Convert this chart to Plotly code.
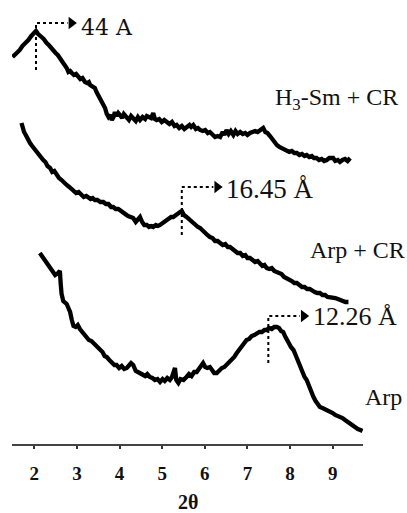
import plotly.graph_objects as go

# X-ray diffraction patterns, intensity in arbitrary units (stacked offsets)
h3sm_cr_2theta = [1.49, 1.55, 1.60, 1.66, 1.72, 1.78, 1.86, 1.93, 2.00, 2.04, 2.09, 2.13, 2.17, 2.22,
                  2.26, 2.29, 2.34, 2.39, 2.45, 2.50, 2.55, 2.60, 2.65, 2.70, 2.76, 2.80, 2.84, 2.88,
                  2.93, 2.98, 3.03, 3.08, 3.13, 3.19, 3.24, 3.28, 3.31, 3.36, 3.42, 3.46, 3.50, 3.54,
                  3.58, 3.62, 3.66, 3.70, 3.74, 3.78, 3.82, 3.86, 3.89, 3.93, 3.97, 4.01, 4.06, 4.10,
                  4.17, 4.22, 4.27, 4.32, 4.38, 4.43, 4.48, 4.54, 4.60, 4.64, 4.70, 4.74, 4.79, 4.83,
                  4.87, 4.93, 4.99, 5.05, 5.11, 5.17, 5.23, 5.29, 5.34, 5.40, 5.46, 5.52, 5.58, 5.64,
                  5.68, 5.73, 5.79, 5.84, 5.89, 5.95, 6.01, 6.07, 6.12, 6.18, 6.24, 6.30, 6.36, 6.42,
                  6.46, 6.51, 6.56, 6.61, 6.67, 6.72, 6.77, 6.83, 6.89, 6.95, 7.00, 7.06, 7.12, 7.18,
                  7.24, 7.30, 7.37, 7.42, 7.47, 7.53, 7.58, 7.63, 7.69, 7.75, 7.80, 7.86, 7.92, 7.98,
                  8.04, 8.10, 8.16, 8.22, 8.28, 8.34, 8.39, 8.45, 8.51, 8.56, 8.62, 8.68, 8.74, 8.80,
                  8.86, 8.92, 9.01, 9.06, 9.12, 9.17, 9.23, 9.29, 9.35, 9.41]
h3sm_cr_int = [387, 389, 392, 394, 398, 400, 404, 408, 411, 413, 410, 409, 407, 405,
               402, 401, 399, 396, 394, 391, 389, 386, 382, 379, 376, 372, 373, 371,
               369, 370, 367, 365, 366, 362, 361, 362, 359, 357, 356, 352, 349, 345,
               342, 339, 336, 330, 327, 329, 324, 327, 332, 328, 331, 329, 326, 330,
               327, 324, 328, 326, 323, 327, 324, 327, 325, 328, 326, 326, 331, 325,
               324, 325, 322, 324, 322, 320, 322, 318, 319, 316, 318, 315, 317, 319,
               317, 319, 315, 316, 314, 313, 314, 311, 312, 310, 307, 308, 307, 312,
               309, 314, 310, 313, 309, 313, 310, 312, 310, 311, 309, 311, 312, 313,
               312, 314, 316, 312, 311, 308, 305, 302, 299, 297, 296, 295, 294, 292,
               293, 291, 291, 289, 290, 288, 289, 287, 288, 286, 286, 284, 285, 283,
               284, 286, 286, 283, 284, 282, 284, 285, 283, 286]

arp_cr_2theta = [1.70, 1.73, 1.76, 1.80, 1.85, 1.90, 1.95, 2.00, 2.06, 2.11, 2.16, 2.21, 2.26, 2.31,
                 2.37, 2.42, 2.47, 2.53, 2.58, 2.64, 2.70, 2.76, 2.82, 2.87, 2.92, 2.98, 3.04, 3.11,
                 3.16, 3.22, 3.27, 3.32, 3.37, 3.42, 3.48, 3.55, 3.62, 3.68, 3.74, 3.80, 3.85, 3.91,
                 3.97, 4.03, 4.09, 4.15, 4.20, 4.26, 4.32, 4.38, 4.43, 4.48, 4.53, 4.58, 4.64, 4.69,
                 4.74, 4.79, 4.85, 4.90, 4.95, 5.01, 5.06, 5.11, 5.16, 5.21, 5.26, 5.31, 5.37, 5.42,
                 5.46, 5.51, 5.57, 5.62, 5.68, 5.73, 5.79, 5.84, 5.89, 5.95, 6.01, 6.06, 6.12, 6.18,
                 6.24, 6.30, 6.36, 6.42, 6.48, 6.54, 6.59, 6.65, 6.71, 6.77, 6.83, 6.89, 6.95, 7.00,
                 7.06, 7.12, 7.18, 7.24, 7.29, 7.35, 7.40, 7.45, 7.51, 7.57, 7.63, 7.69, 7.75, 7.80,
                 7.86, 7.92, 7.98, 8.04, 8.10, 8.16, 8.22, 8.28, 8.34, 8.40, 8.46, 8.52, 8.58, 8.64,
                 8.70, 8.76, 8.82, 8.88, 8.94, 9.00, 9.06, 9.12, 9.18, 9.24, 9.30, 9.37]
arp_cr_int = [321, 316, 312, 309, 304, 301, 298, 295, 292, 290, 286, 284, 282, 278,
              276, 272, 273, 269, 266, 264, 261, 259, 257, 255, 254, 251, 252, 249,
              247, 248, 246, 245, 246, 244, 244, 242, 242, 240, 240, 237, 237, 235,
              235, 233, 232, 229, 228, 227, 226, 222, 225, 227, 222, 219, 219, 217,
              218, 217, 219, 218, 219, 221, 222, 224, 225, 227, 227, 229, 230, 232,
              233, 229, 227, 225, 223, 222, 219, 217, 216, 213, 211, 209, 207, 206,
              203, 203, 201, 199, 200, 197, 197, 195, 194, 191, 191, 188, 189, 186,
              186, 184, 182, 183, 181, 178, 179, 176, 175, 176, 173, 172, 170, 170,
              167, 166, 164, 163, 161, 161, 159, 157, 157, 155, 155, 153, 152, 151,
              151, 149, 149, 147, 147, 146, 146, 145, 144, 144, 142, 142]

arp_2theta = [2.13, 2.18, 2.25, 2.30, 2.37, 2.42, 2.49, 2.56, 2.60, 2.62, 2.64, 2.68, 2.72, 2.76,
              2.80, 2.84, 2.88, 2.92, 2.97, 3.02, 3.07, 3.13, 3.18, 3.23, 3.28, 3.34, 3.42, 3.48,
              3.54, 3.60, 3.65, 3.70, 3.76, 3.82, 3.88, 3.93, 3.99, 4.05, 4.11, 4.17, 4.22, 4.27,
              4.32, 4.38, 4.43, 4.48, 4.54, 4.60, 4.65, 4.71, 4.77, 4.83, 4.89, 4.95, 5.01, 5.06,
              5.12, 5.18, 5.23, 5.27, 5.30, 5.33, 5.38, 5.43, 5.50, 5.57, 5.63, 5.69, 5.75, 5.81,
              5.86, 5.91, 5.96, 6.01, 6.06, 6.12, 6.17, 6.22, 6.28, 6.34, 6.40, 6.46, 6.51, 6.57,
              6.63, 6.69, 6.75, 6.81, 6.87, 6.93, 6.98, 7.04, 7.10, 7.16, 7.22, 7.28, 7.34, 7.40,
              7.45, 7.51, 7.57, 7.63, 7.69, 7.74, 7.79, 7.84, 7.88, 7.92, 7.97, 8.02, 8.08, 8.13,
              8.18, 8.23, 8.28, 8.34, 8.39, 8.44, 8.50, 8.55, 8.60, 8.65, 8.70, 8.76, 8.82, 8.88,
              8.94, 9.00, 9.06, 9.12, 9.17, 9.23, 9.29, 9.35, 9.41, 9.47, 9.53, 9.59, 9.65, 9.70]
arp_int = [191, 188, 184, 180, 175, 172, 169, 171, 173, 160, 150, 143, 141, 140,
           136, 132, 124, 118, 117, 119, 115, 112, 110, 107, 104, 103, 100, 97,
           95, 92, 88, 87, 84, 82, 79, 79, 76, 78, 75, 76, 78, 81,
           79, 73, 72, 71, 70, 68, 70, 67, 66, 64, 65, 62, 65, 63,
           66, 64, 67, 72, 76, 64, 61, 65, 64, 67, 70, 68, 72, 72,
           75, 78, 81, 77, 76, 77, 73, 71, 71, 74, 76, 77, 79, 82,
           85, 87, 91, 94, 97, 101, 104, 105, 108, 109, 111, 112, 112, 114,
           114, 116, 115, 117, 117, 116, 113, 112, 108, 104, 101, 97, 94, 89,
           83, 77, 72, 67, 64, 58, 52, 47, 43, 40, 37, 36, 35, 33,
           32, 31, 29, 28, 27, 26, 24, 22, 21, 19, 17, 15, 14, 13]

# Reflections marked on each pattern: position (2θ), intensity at the peak, d-spacing text
peak_2theta = [2.04, 5.46, 7.49]
peak_int = [413, 233, 115]
peak_labels = ["44 A", "16.45 Å", "12.26 Å"]

sample_names = ["H<sub>3</sub>-Sm + CR", "Arp + CR", "Arp"]
tick_vals = [2, 3, 4, 5, 6, 7, 8, 9]
tick_text = ["2", "3", "4", "5", "6", "7", "8", "9"]

INK = "#111111"

fig = go.Figure()

for xs, ys in [(h3sm_cr_2theta, h3sm_cr_int), (arp_cr_2theta, arp_cr_int), (arp_2theta, arp_int)]:
    fig.add_trace(go.Scatter(x=xs, y=ys, mode="lines",
                             line=dict(color="black", width=4.3), hoverinfo="skip"))

# leader geometry for each peak marker: (rise of the elbow above the peak, drop below the peak)
leader_offsets = [(8, 39), (24, 24), (13, 34)]
leader_len = 0.74
label_fonts = [dict(family="DejaVu Serif", size=22, color=INK),
               dict(family="Liberation Serif", size=27, color=INK),
               dict(family="Liberation Serif", size=26, color=INK)]
label_dy = [-4, -2, 0]

for px, pi, lab, (up, down), fnt, dy in zip(peak_2theta, peak_int, peak_labels,
                                            leader_offsets, label_fonts, label_dy):
    top = pi + up
    fig.add_trace(go.Scatter(x=[px, px, px + leader_len], y=[pi - down, top, top], mode="lines",
                             line=dict(color="black", width=2, dash="dot"), hoverinfo="skip"))
    fig.add_trace(go.Scatter(x=[px + leader_len + 0.09], y=[top], mode="markers",
                             marker=dict(symbol="triangle-right", size=11, color="black"),
                             cliponaxis=False, hoverinfo="skip"))
    fig.add_annotation(x=px + 1.0, y=top + dy, text=lab, showarrow=False,
                       xanchor="left", yanchor="middle", font=fnt)

# sample names beside each pattern
name_pos = [(7.60, 345), (8.42, 194), (9.71, 47)]
for name, (nx, ny) in zip(sample_names, name_pos):
    fig.add_annotation(x=nx, y=ny, text=name, showarrow=False, xanchor="left", yanchor="middle",
                       font=dict(family="Liberation Serif", size=24, color=INK))

fig.add_annotation(x=0.5, y=-0.13, xref="paper", yref="paper", text="2θ", showarrow=False,
                   xanchor="center", yanchor="middle",
                   font=dict(family="Liberation Serif", size=20, color=INK, weight="bold"))

fig.update_layout(
    width=407, height=513,
    margin=dict(l=12, r=44, t=0, b=69),
    paper_bgcolor="white", plot_bgcolor="white",
    showlegend=False,
    xaxis=dict(range=[1.477, 9.711], tickvals=tick_vals, ticktext=tick_text,
               ticks="outside", ticklen=3, tickwidth=2, tickcolor="#333333",
               showline=True, linecolor="#444444", linewidth=2,
               showgrid=False, zeroline=False, ticklabelstandoff=8,
               tickfont=dict(family="Liberation Serif", size=19, color=INK, weight="bold")),
    yaxis=dict(range=[0, 444], visible=False, showgrid=False, zeroline=False),
)

fig.write_html("out.html")
